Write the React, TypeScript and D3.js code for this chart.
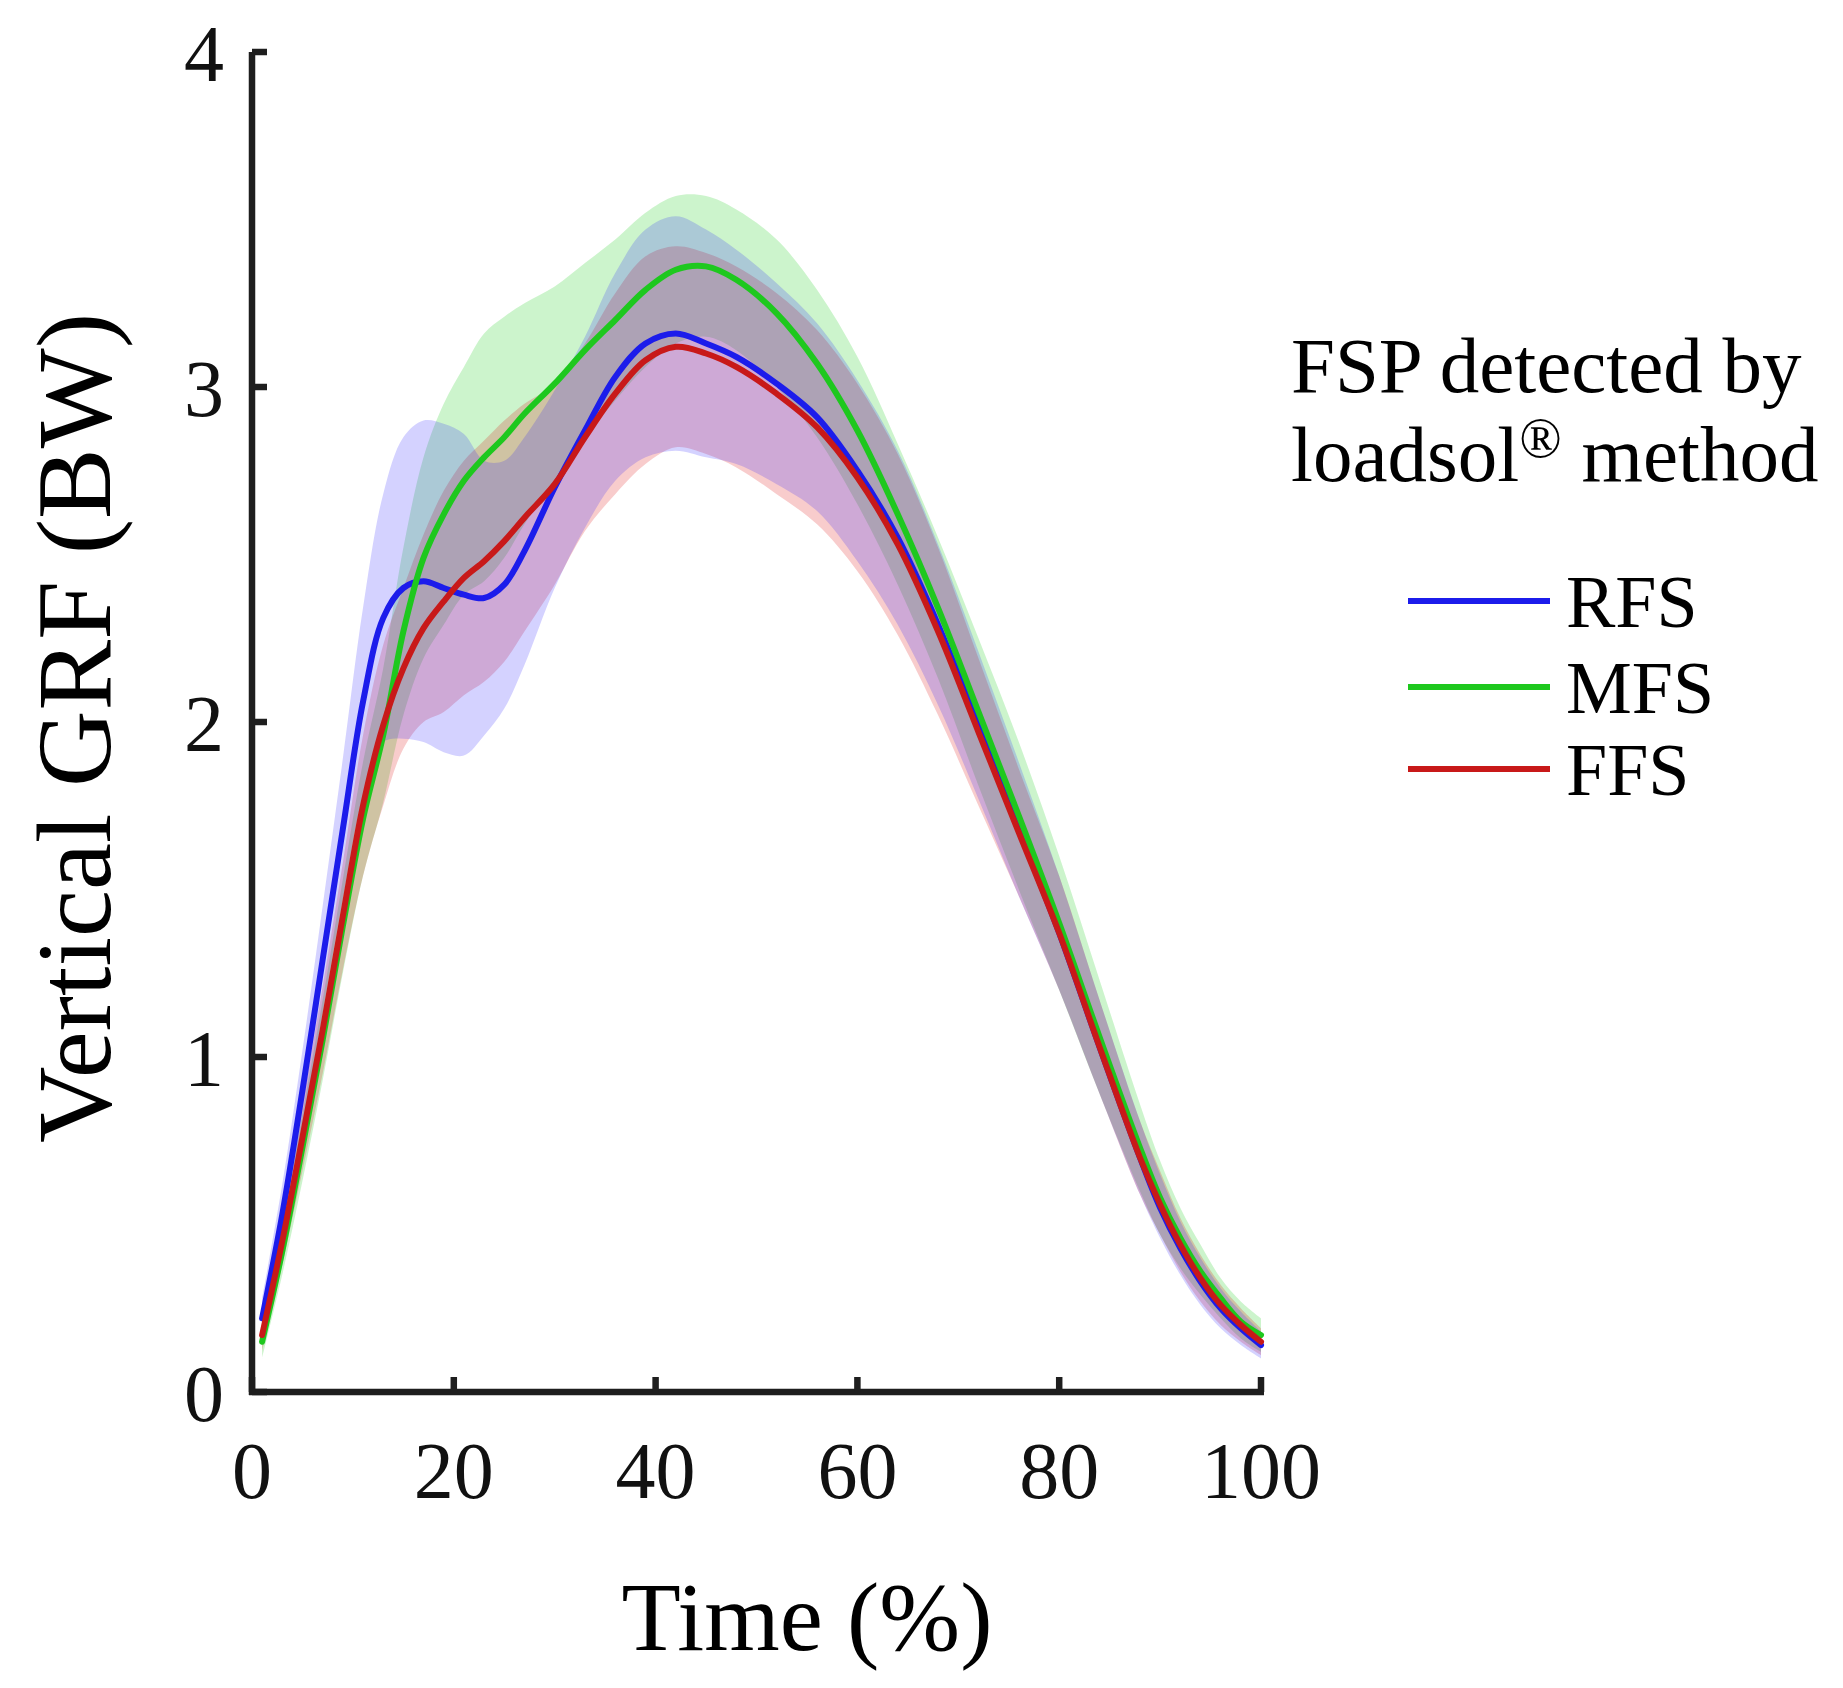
import { useEffect, useRef } from "react"
import * as d3 from "d3"

// time (% of stance) where the curves were read
const time = [1, 3, 5, 7, 9, 11, 13, 15, 17, 19, 21, 23, 25, 27, 30, 33, 36, 39, 42, 45, 48, 52, 56, 60, 64, 68, 72, 76, 80, 84, 88, 90, 92, 94, 96, 98, 100]

// RFS (blue)
const rfsMean = [0.22, 0.53, 0.9, 1.29, 1.68, 2.06, 2.31, 2.4, 2.42, 2.4, 2.38, 2.37, 2.41, 2.51, 2.7, 2.87, 3.03, 3.13, 3.16, 3.13, 3.09, 3.01, 2.91, 2.75, 2.55, 2.29, 1.99, 1.68, 1.37, 1.03, 0.7, 0.55, 0.43, 0.33, 0.25, 0.19, 0.14]
const rfsUpper = [0.28, 0.62, 1.02, 1.45, 1.89, 2.34, 2.68, 2.85, 2.9, 2.89, 2.86, 2.78, 2.78, 2.85, 2.99, 3.15, 3.34, 3.47, 3.51, 3.47, 3.41, 3.31, 3.19, 3.02, 2.81, 2.53, 2.21, 1.88, 1.54, 1.17, 0.81, 0.65, 0.51, 0.4, 0.31, 0.24, 0.18]
const rfsLower = [0.16, 0.44, 0.78, 1.13, 1.47, 1.78, 1.94, 1.95, 1.94, 1.91, 1.9, 1.96, 2.04, 2.17, 2.4, 2.58, 2.72, 2.79, 2.81, 2.79, 2.77, 2.71, 2.63, 2.48, 2.29, 2.05, 1.77, 1.48, 1.2, 0.89, 0.59, 0.46, 0.35, 0.26, 0.19, 0.14, 0.1]

// MFS (green)
const mfsMean = [0.15, 0.42, 0.73, 1.05, 1.39, 1.71, 1.96, 2.27, 2.49, 2.62, 2.72, 2.79, 2.85, 2.92, 3.01, 3.11, 3.2, 3.29, 3.35, 3.36, 3.32, 3.22, 3.07, 2.87, 2.62, 2.34, 2.03, 1.72, 1.4, 1.06, 0.73, 0.58, 0.46, 0.36, 0.28, 0.21, 0.17]
const mfsUpper = [0.2, 0.49, 0.83, 1.17, 1.53, 1.88, 2.16, 2.52, 2.79, 2.95, 3.06, 3.16, 3.21, 3.25, 3.3, 3.37, 3.44, 3.52, 3.57, 3.57, 3.53, 3.44, 3.29, 3.09, 2.83, 2.55, 2.25, 1.94, 1.6, 1.23, 0.86, 0.69, 0.55, 0.44, 0.34, 0.27, 0.22]
const mfsLower = [0.1, 0.35, 0.63, 0.93, 1.25, 1.54, 1.76, 2.02, 2.19, 2.29, 2.38, 2.42, 2.49, 2.59, 2.72, 2.85, 2.96, 3.06, 3.13, 3.15, 3.11, 3.0, 2.85, 2.65, 2.41, 2.13, 1.81, 1.5, 1.2, 0.89, 0.6, 0.47, 0.37, 0.29, 0.22, 0.16, 0.12]

// FFS (red)
const ffsMean = [0.17, 0.45, 0.76, 1.08, 1.42, 1.75, 1.99, 2.16, 2.28, 2.36, 2.43, 2.48, 2.54, 2.61, 2.71, 2.85, 2.98, 3.08, 3.12, 3.1, 3.06, 2.98, 2.88, 2.73, 2.53, 2.27, 1.97, 1.67, 1.37, 1.03, 0.7, 0.56, 0.44, 0.34, 0.26, 0.2, 0.15]
const ffsUpper = [0.22, 0.52, 0.86, 1.21, 1.58, 1.96, 2.23, 2.4, 2.56, 2.69, 2.78, 2.84, 2.9, 2.95, 3.01, 3.13, 3.28, 3.39, 3.42, 3.4, 3.36, 3.28, 3.17, 3.01, 2.8, 2.52, 2.19, 1.86, 1.54, 1.17, 0.81, 0.66, 0.52, 0.41, 0.32, 0.25, 0.19]
const ffsLower = [0.12, 0.38, 0.66, 0.95, 1.26, 1.54, 1.75, 1.92, 2.0, 2.03, 2.08, 2.12, 2.18, 2.27, 2.41, 2.57, 2.68, 2.77, 2.82, 2.8, 2.76, 2.68, 2.59, 2.45, 2.26, 2.02, 1.75, 1.48, 1.2, 0.89, 0.59, 0.47, 0.36, 0.27, 0.2, 0.15, 0.11]

const xTicks = [0, 20, 40, 60, 80, 100]
const yTicks = [0, 1, 2, 3, 4]
const seriesNames = ["RFS", "MFS", "FFS"]
const lineColors = ["#1c1ceb", "#1ec81e", "#c81919"]
const bandColors = ["#2a1eff", "#00c800", "#dc0000"]

const FONT = "'Liberation Serif', 'Times New Roman', serif"

export default function App() {
  const svgRef = useRef<SVGSVGElement>(null)

  useEffect(() => {
    if (!svgRef.current) return
    const svg = d3.select(svgRef.current)
    svg.selectAll("*").remove()

    const x = d3.scaleLinear().domain([0, 100]).range([252, 1261])
    const y = d3.scaleLinear().domain([0, 4]).range([1392, 52])
    const curve = d3.curveCatmullRom.alpha(0.5)

    const means = [rfsMean, mfsMean, ffsMean]
    const uppers = [rfsUpper, mfsUpper, ffsUpper]
    const lowers = [rfsLower, mfsLower, ffsLower]

    // 표준편차 영역 (녹색, 빨강, 파랑 순서)
    ;[1, 2, 0].forEach((s) => {
      const area = d3
        .area<number>()
        .x((t) => x(t))
        .y0((_t, i) => y(lowers[s][i]))
        .y1((_t, i) => y(uppers[s][i]))
        .curve(curve)
      svg.append("path").datum(time).attr("fill", bandColors[s]).attr("fill-opacity", 0.2).attr("d", area)
    })

    // 평균 곡선
    means.forEach((m, s) => {
      const line = d3
        .line<number>()
        .x((t) => x(t))
        .y((_t, i) => y(m[i]))
        .curve(curve)
      svg
        .append("path")
        .datum(time)
        .attr("fill", "none")
        .attr("stroke", lineColors[s])
        .attr("stroke-width", 6)
        .attr("stroke-linecap", "round")
        .attr("d", line)
    })

    // 축
    const axis = svg.append("g").attr("stroke", "#1e1e1e").attr("stroke-width", 6.5)
    axis.append("line").attr("x1", x(0)).attr("x2", x(0)).attr("y1", y(0) + 3).attr("y2", y(4))
    axis.append("line").attr("x1", x(0) - 3).attr("x2", x(100) + 3).attr("y1", y(0)).attr("y2", y(0))
    yTicks.forEach((v) => {
      axis.append("line").attr("x1", x(0)).attr("x2", x(0) + 15).attr("y1", y(v)).attr("y2", y(v))
    })
    xTicks.forEach((v) => {
      axis.append("line").attr("x1", x(v)).attr("x2", x(v)).attr("y1", y(0)).attr("y2", y(0) - 15)
    })

    yTicks.forEach((v) => {
      svg
        .append("text")
        .attr("x", 224)
        .attr("y", y(v) + 29)
        .attr("text-anchor", "end")
        .style("font-family", FONT)
        .style("font-size", "80px")
        .attr("fill", "#111")
        .text(v)
    })
    xTicks.forEach((v) => {
      svg
        .append("text")
        .attr("x", x(v))
        .attr("y", 1498)
        .attr("text-anchor", "middle")
        .style("font-family", FONT)
        .style("font-size", "80px")
        .attr("fill", "#111")
        .text(v)
    })

    // 축 레이블
    svg
      .append("text")
      .attr("transform", "translate(110, 728) rotate(-90)")
      .attr("text-anchor", "middle")
      .style("font-family", FONT)
      .style("font-size", "106px")
      .attr("fill", "#000")
      .text("Vertical GRF (BW)")

    svg
      .append("text")
      .attr("x", 807)
      .attr("y", 1650)
      .attr("text-anchor", "middle")
      .style("font-family", FONT)
      .style("font-size", "97px")
      .attr("fill", "#000")
      .text("Time (%)")

    // 범례
    const legend = svg.append("g").style("font-family", FONT).attr("fill", "#000")
    legend.append("text").attr("x", 1291).attr("y", 392).style("font-size", "79px").text("FSP detected by")
    const t2 = legend.append("text").attr("x", 1291).attr("y", 481).style("font-size", "79px")
    t2.append("tspan").text("loadsol")
    t2.append("tspan").attr("dy", "-0.42em").style("font-size", "56px").text("®")
    t2.append("tspan").attr("dy", "0.3em").text(" method")

    const rows = [601, 687, 769]
    seriesNames.forEach((name, s) => {
      legend
        .append("line")
        .attr("x1", 1408)
        .attr("x2", 1550)
        .attr("y1", rows[s])
        .attr("y2", rows[s])
        .attr("stroke", lineColors[s])
        .attr("stroke-width", 6)
      legend
        .append("text")
        .attr("x", 1566)
        .attr("y", rows[s] + 26)
        .style("font-size", "74px")
        .text(name)
    })
  }, [])

  return (
    <>
      <style>{"body{margin:0}"}</style>
      <svg ref={svgRef} width={1843} height={1688} style={{ display: "block", background: "#fff" }} />
    </>
  )
}
